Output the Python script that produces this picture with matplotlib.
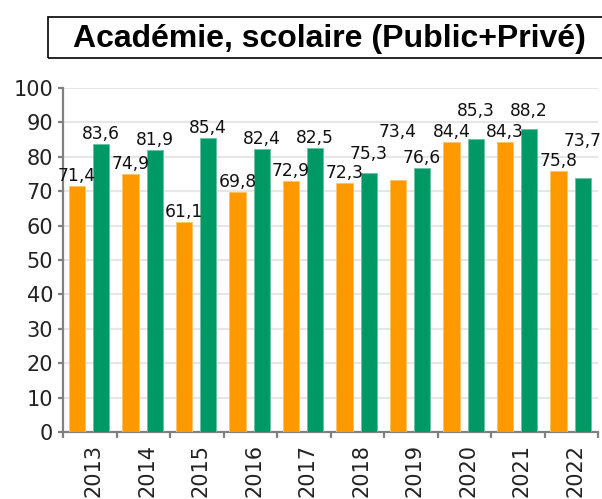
import matplotlib
matplotlib.use("Agg")
import matplotlib.pyplot as plt
import matplotlib.transforms as mtransforms
from matplotlib.patches import Rectangle
import numpy as np

plt.rcParams["font.family"] = ["DejaVu Sans"]

# ---- data ----
years = ["2013", "2014", "2015", "2016", "2017", "2018", "2019", "2020", "2021", "2022"]
orange_values = [71.4, 74.9, 61.1, 69.8, 72.9, 72.3, 73.4, 84.4, 84.3, 75.8]
green_values = [83.6, 81.9, 85.4, 82.4, 82.5, 75.3, 76.6, 85.3, 88.2, 73.7]
title = "Académie, scolaire (Public+Privé)"

# ---- style ----
ORANGE = "#FF9900"
GREEN = "#009966"
W, H, DPI = 602, 499, 100
PT = 72 / DPI  # points per pixel
# label lift above bar top (pixels), default 10
orange_lift = [10, 10, 10, 10, 10, 10, 48, 10, 10, 10]
green_lift = [10, 10, 10, 10, 10, 19, 10, 28, 18, 37]

fig = plt.figure(figsize=(W / DPI, H / DPI), dpi=DPI)
ax = fig.add_axes([63 / W, (H - 432) / H, (598 - 63) / W, (432 - 88) / H])

x = np.arange(len(years))
bw = 0.30
xo = x - 0.238
xg = x + 0.212
ax.bar(xo, orange_values, width=bw, color=ORANGE, edgecolor="#ffc266", linewidth=0.6, zorder=3)
ax.bar(xg, green_values, width=bw, color=GREEN, edgecolor="#66c2a3", linewidth=0.6, zorder=3)

ax.set_xlim(-0.5, len(years) - 0.5)
ax.set_ylim(0, 100)
ax.set_yticks(np.arange(0, 101, 10))
ax.yaxis.grid(True, color="#e6e6e6", linewidth=1.5, zorder=0)
ax.set_axisbelow(True)

for s in ["top", "right"]:
    ax.spines[s].set_visible(False)
for s in ["left", "bottom"]:
    ax.spines[s].set_color("#808080")
    ax.spines[s].set_linewidth(1.6)

ax.tick_params(axis="y", which="major", length=5 * PT, width=1.6, color="#808080",
               labelsize=15, labelcolor="#222222", pad=5 * PT)
ax.set_xticks(x)
ax.set_xticklabels(years, rotation=90, fontsize=15, color="#222222")
ax.set_xticks(np.arange(-0.5, len(years) - 0.4, 1.0), minor=True)
ax.tick_params(axis="x", which="major", length=0, pad=12 * PT)
ax.tick_params(axis="x", which="minor", length=6 * PT, width=1.6, color="#808080")
offset = mtransforms.ScaledTranslation(4 / DPI, 0, fig.dpi_scale_trans)
for lab in ax.get_xticklabels():
    lab.set_transform(lab.get_transform() + offset)

def fmt(v):
    return f"{v:.1f}".replace(".", ",")

for xi, v, lift in zip(xo, orange_values, orange_lift):
    ax.annotate(fmt(v), (xi, v), xytext=(0, lift * PT), textcoords="offset points",
                ha="center", va="center", fontsize=12.3, color="#111111", zorder=5)
for xi, v, lift in zip(xg, green_values, green_lift):
    ax.annotate(fmt(v), (xi, v), xytext=(0, lift * PT), textcoords="offset points",
                ha="center", va="center", fontsize=12.3, color="#111111", zorder=5)

# title box
fig.patches.append(Rectangle((48 / W, (H - 58) / H), 600 / W, 41 / H, transform=fig.transFigure,
                             fill=False, edgecolor="black", linewidth=1.2))
fig.text(329 / W, (H - 47) / H, title, ha="center", va="baseline",
         fontsize=23, fontweight="bold", family=["Liberation Sans", "DejaVu Sans"], color="black")

fig.savefig("out.png", dpi=DPI)
